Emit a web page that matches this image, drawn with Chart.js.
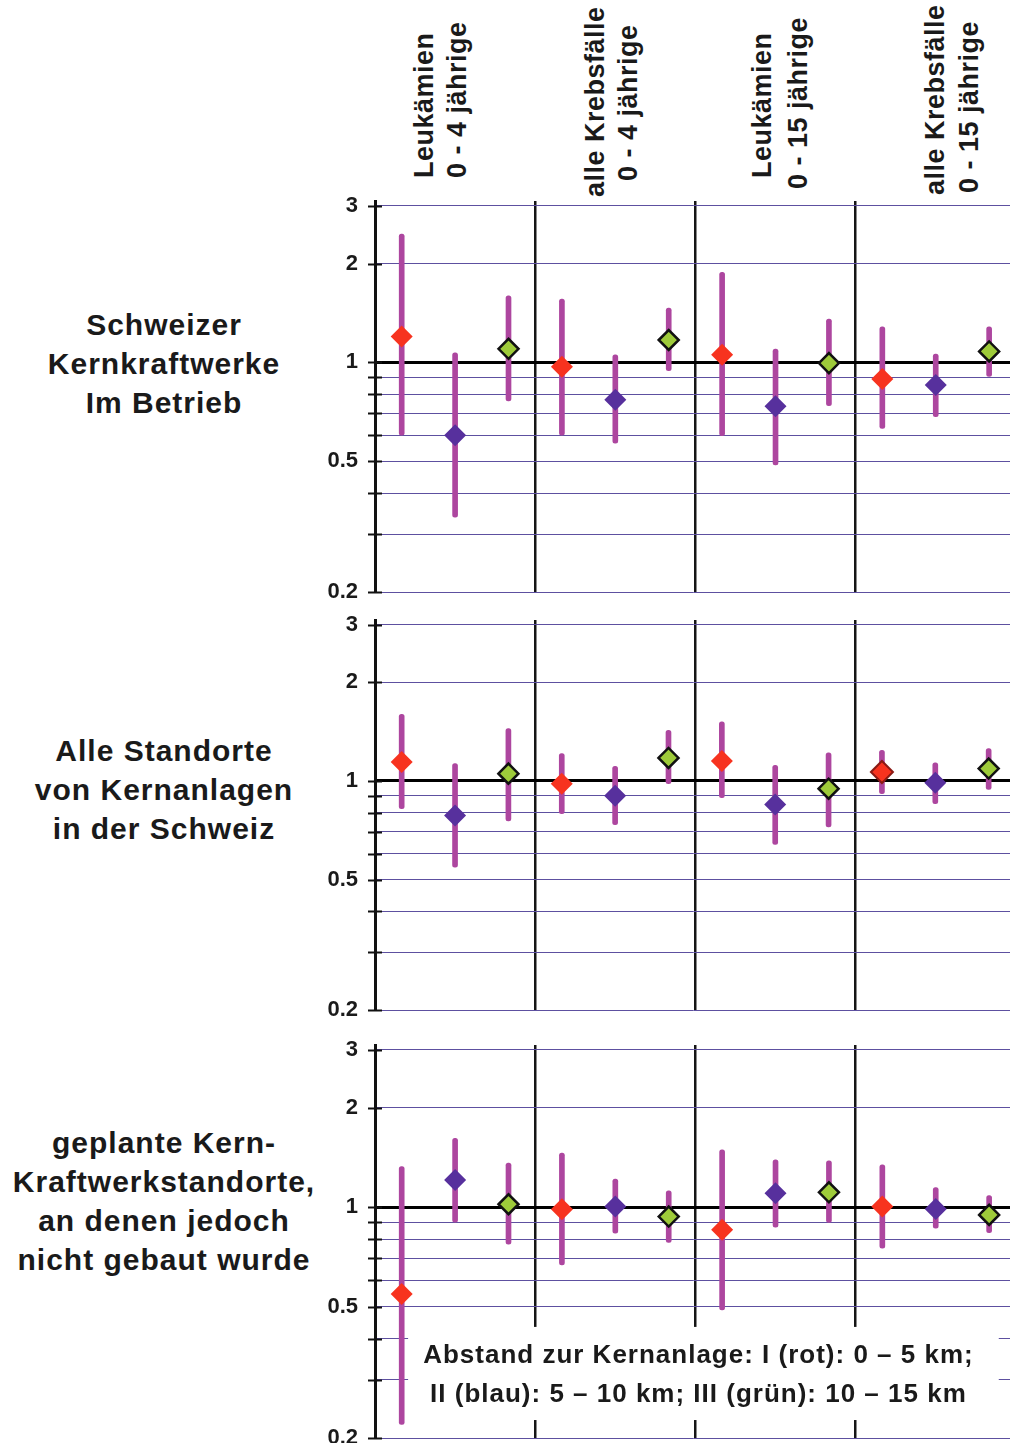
<!DOCTYPE html>
<html lang="de">
<head>
<meta charset="utf-8">
<script src="https://cdn.jsdelivr.net/npm/chart.js@4.4.1/dist/chart.umd.min.js"></script>
<style>
  body { margin:0; background:#fff; width:1010px; height:1443px; position:relative; overflow:hidden;
         font-family:"Liberation Sans", Arial, sans-serif; color:#1a1a1a; }
  .titel { position:absolute; left:0; width:328px; text-align:center; font-weight:bold;
           font-size:30px; line-height:39px; letter-spacing:1px; }
  .kopf { position:absolute; white-space:nowrap; transform:rotate(-90deg); transform-origin:0 0;
          font-weight:bold; font-size:27px; line-height:31px; letter-spacing:0.5px; }
  canvas { position:absolute; left:300px; }
</style>
</head>
<body>

<div class="kopf" style="left:409px; top:178px">Leukämien</div>
<div class="kopf" style="left:442px; top:178px">0 - 4 jährige</div>
<div class="kopf" style="left:580px; top:197px">alle Krebsfälle</div>
<div class="kopf" style="left:613px; top:181px">0 - 4 jährige</div>
<div class="kopf" style="left:747px; top:178px">Leukämien</div>
<div class="kopf" style="left:783px; top:189px">0 - 15 jährige</div>
<div class="kopf" style="left:920px; top:195px">alle Krebsfälle</div>
<div class="kopf" style="left:954px; top:193px">0 - 15 jährige</div>

<div class="titel" style="top:305px">Schweizer<br>Kernkraftwerke<br>Im Betrieb</div>
<div class="titel" style="top:731px">Alle Standorte<br>von Kernanlagen<br>in der Schweiz</div>
<div class="titel" style="top:1123px">geplante Kern-<br>Kraftwerkstandorte,<br>an denen jedoch<br>nicht gebaut wurde</div>

<canvas id="panel1" width="723" height="419" style="top:187px"></canvas>
<canvas id="panel2" width="723" height="418" style="top:606px"></canvas>
<canvas id="panel3" width="723" height="421" style="top:1031px"></canvas>

<script>
// Reihenfolge je Gruppe: I (rot), II (blau), III (grün)
// Gruppen: Leukämien 0-4, alle Krebsfälle 0-4, Leukämien 0-15, alle Krebsfälle 0-15
const gruppen = ['Leukämien 0 - 4 jährige', 'alle Krebsfälle 0 - 4 jährige',
                 'Leukämien 0 - 15 jährige', 'alle Krebsfälle 0 - 15 jährige'];
const abstaende = ['I (rot): 0 – 5 km', 'II (blau): 5 – 10 km', 'III (grün): 10 – 15 km'];

// Schweizer Kernkraftwerke im Betrieb
const betriebRR = [1.20, 0.60, 1.10,  0.97, 0.77, 1.17,  1.055, 0.735, 0.995,  0.89, 0.853, 1.08];
const betriebLo = [0.60, 0.338, 0.764, 0.60, 0.568, 0.943, 0.598, 0.487, 0.738, 0.63, 0.683, 0.907];
const betriebHi = [2.46, 1.07, 1.595, 1.558, 1.055, 1.463, 1.879, 1.098, 1.355, 1.284, 1.06, 1.284];

// Alle Standorte von Kernanlagen in der Schweiz
const standorteRR = [1.143, 0.785, 1.053, 0.981, 0.902, 1.176, 1.151, 0.847, 0.947, 1.065, 0.988, 1.091];
const standorteLo = [0.823, 0.546, 0.755, 0.795, 0.736, 0.981, 0.889, 0.64, 0.724, 0.915, 0.853, 0.943];
const standorteHi = [1.598, 1.13, 1.445, 1.212, 1.108, 1.428, 1.515, 1.117, 1.218, 1.241, 1.137, 1.255];

// geplante Standorte, nicht gebaut
const geplantRR = [0.546, 1.21, 1.021, 0.986, 1.005, 0.937, 0.854, 1.102, 1.11, 1.005, 0.988, 0.948];
const geplantLo = [0.22, 0.901, 0.773, 0.669, 0.834, 0.783, 0.489, 0.87, 0.899, 0.751, 0.864, 0.838];
const geplantHi = [1.328, 1.618, 1.36, 1.458, 1.216, 1.121, 1.491, 1.392, 1.382, 1.343, 1.147, 1.085];

const yTicks = [0.2, 0.3, 0.4, 0.5, 0.6, 0.7, 0.8, 0.9, 1, 2, 3];
const yLabels = [0.2, 0.5, 1, 2, 3];

const farben = ['#f7331f', '#57309d', '#9ecb3a'];
const balkenFarbe = '#ad469f';
const gitterFarbe = '#5d50a0';

// kurze schwarze Striche quer über die y-Achse
const achsenMarken = {
  id: 'achsenMarken',
  beforeDatasetsDraw(chart) {
    const ys = chart.scales.y, left = chart.chartArea.left, c = chart.ctx;
    c.save();
    c.strokeStyle = '#111';
    c.lineWidth = 2;
    ys.ticks.forEach(t => {
      const py = Math.round(ys.getPixelForValue(t.value)) + 0.5;
      c.beginPath();
      c.moveTo(left - 7, py);
      c.lineTo(left + 7, py);
      c.stroke();
    });
    c.restore();
  }
};

// Legendenkasten im untersten Panel
const legendenKasten = {
  id: 'legendenKasten',
  beforeDatasetsDraw(chart) {
    const xs = chart.scales.x, ys = chart.scales.y, c = chart.ctx;
    const x0 = xs.getPixelForValue(0.12), x1 = xs.getPixelForValue(11.18);
    const y0 = ys.getPixelForValue(0.434), y1 = ys.getPixelForValue(0.2267);
    c.save();
    c.fillStyle = '#fff';
    c.fillRect(x0, y0, x1 - x0, y1 - y0);
    c.fillStyle = '#1a1a1a';
    c.font = 'bold 26px "Liberation Sans", Arial, sans-serif';
    c.letterSpacing = '1px';
    c.textAlign = 'center';
    c.textBaseline = 'alphabetic';
    const cx = xs.getPixelForValue(5.5) + 3;
    c.fillText('Abstand zur Kernanlage: ' + abstaende[0] + ';', cx, y0 + 36);
    c.fillText(abstaende[1] + '; ' + abstaende[2], cx, y0 + 75);
    c.restore();
  }
};

function zeichnePanel(id, rr, lo, hi, randBreiten, mitLegende) {
  const idx = rr.map((v, i) => i);
  const serie = s => idx.filter(i => i % 3 === s).map(i => ({ x: i, y: rr[i] }));

  const datasets = [
    {
      type: 'bar',
      data: idx.map(i => ({ x: i, y: [lo[i], hi[i]] })),
      backgroundColor: balkenFarbe,
      barThickness: 5,
      borderWidth: 0,
      borderRadius: 2.5,
      borderSkipped: false,
      order: 5
    },
    {
      type: 'scatter',
      data: serie(0),
      pointStyle: 'rectRot',
      pointRadius: 11,
      backgroundColor: farben[0],
      borderColor: '#8a1a14',
      borderWidth: randBreiten,
      order: 1
    },
    {
      type: 'scatter',
      data: serie(1),
      pointStyle: 'rectRot',
      pointRadius: 11,
      backgroundColor: farben[1],
      borderWidth: 0,
      order: 1
    },
    {
      type: 'scatter',
      data: serie(2),
      pointStyle: 'rectRot',
      pointRadius: 10,
      backgroundColor: farben[2],
      borderColor: '#111',
      borderWidth: 2.5,
      order: 1
    }
  ];

  new Chart(document.getElementById(id), {
    type: 'bar',
    data: { datasets },
    options: {
      responsive: false,
      animation: false,
      events: [],
      layout: { padding: { top: 14, bottom: 14, left: 0, right: 0 } },
      plugins: { legend: { display: false }, tooltip: { enabled: false } },
      scales: {
        x: {
          type: 'linear',
          offset: false,
          min: -0.5,
          max: 11.4,
          afterBuildTicks: s => { s.ticks = gruppen.slice(1).map((g, k) => ({ value: (k + 1) * 3 - 0.5 })); },
          afterFit: s => { s.height = 0; },
          ticks: { display: false },
          grid: { offset: false, color: '#151515', lineWidth: 2.5, drawTicks: false },
          border: { display: false }
        },
        y: {
          type: 'logarithmic',
          min: 0.2,
          max: 3.1,
          afterBuildTicks: s => { s.ticks = yTicks.map(v => ({ value: v })); },
          afterFit: s => { s.width = 75; },
          ticks: {
            autoSkip: false,
            padding: 0,
            color: '#1a1a1a',
            font: { family: '"Liberation Sans", Arial, sans-serif', size: 22, weight: 'bold', lineHeight: 1.1 },
            callback: v => yLabels.includes(v) ? String(v) : ''
          },
          grid: {
            drawTicks: true,
            tickLength: 17,
            tickColor: 'rgba(0,0,0,0)',
            color: c => c.tick && c.tick.value === 1 ? '#000' : gitterFarbe,
            lineWidth: c => c.tick && c.tick.value === 1 ? 3 : 1
          },
          border: { display: true, color: '#111', width: 3 }
        }
      }
    },
    plugins: mitLegende ? [achsenMarken, legendenKasten] : [achsenMarken]
  });
}

zeichnePanel('panel1', betriebRR, betriebLo, betriebHi, 0, false);
zeichnePanel('panel2', standorteRR, standorteLo, standorteHi, [0, 0, 0, 2], false);
zeichnePanel('panel3', geplantRR, geplantLo, geplantHi, 0, true);
</script>
</body>
</html>
